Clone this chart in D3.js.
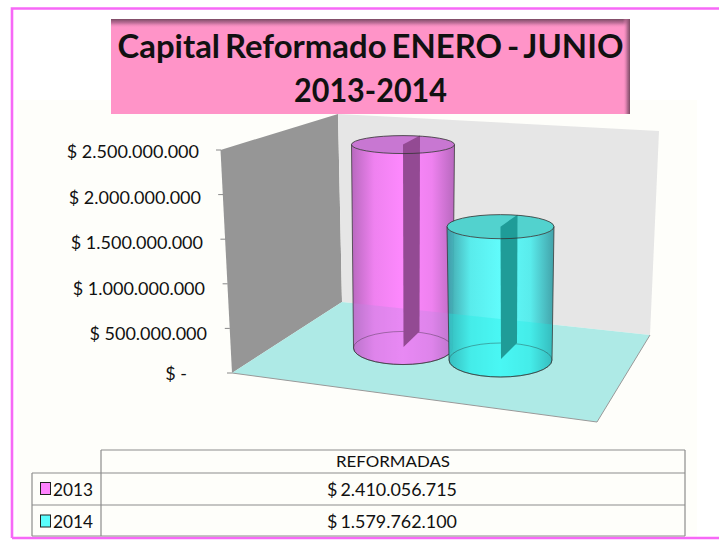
<!DOCTYPE html>
<html><head><meta charset="utf-8">
<script src="https://cdnjs.cloudflare.com/ajax/libs/d3/7.8.5/d3.min.js"></script>
<style>html,body{margin:0;padding:0;background:#fff}svg{display:block}text{font-family:Lato,"Open Sans",sans-serif;fill:#111}</style>
</head><body><svg id="c" width="719" height="540"></svg>
<script>
const titleLines = ["Capital Reformado ENERO - JUNIO", "2013-2014"];
const years = ["2013", "2014"];
const values = [2410056715, 1579762100];
const tickValues = [0, 500000000, 1000000000, 1500000000, 2000000000, 2500000000];
const tableHeader = "REFORMADAS";
const seriesColors = ["#ff84ff", "#5afdfd"];

const loc = d3.formatLocale({decimal:",",thousands:".",grouping:[3],currency:["$ ",""]});
const money = v => v === 0 ? "$ -" : loc.format("$,.0f")(v);

const svg = d3.select("#c"), defs = svg.append("defs");

// frame + panel
svg.append("rect").attr("x",0).attr("y",0).attr("width",719).attr("height",540).attr("fill","#fff");
svg.append("rect").attr("x",17).attr("y",100).attr("width",680).attr("height",437).attr("fill","#fefefa");
svg.append("path").attr("d","M12,538V8.5H719 M12,538H719").attr("fill","none").attr("stroke","#f768f7").attr("stroke-width",2.6);

// title box
function grad(id,x2,y2,stops){const g=defs.append("linearGradient").attr("id",id).attr("x1",0).attr("y1",0).attr("x2",x2).attr("y2",y2);
  stops.forEach(s=>g.append("stop").attr("offset",s[0]).attr("stop-color",s[1]).attr("stop-opacity",s[2]));}
grad("ts",0,1,[[0,"#7a4a63",1],[.45,"#b0668e",.8],[1,"#ff94c8",0]]);
grad("rs",1,0,[[0,"#ff94c8",0],[.6,"#a86488",.8],[1,"#7a4a63",1]]);
svg.append("rect").attr("x",111).attr("y",19).attr("width",519).attr("height",95).attr("fill","#ff94c8");
svg.append("rect").attr("x",111).attr("y",19).attr("width",519).attr("height",9).attr("fill","url(#ts)");
svg.append("rect").attr("x",623).attr("y",19).attr("width",7).attr("height",95).attr("fill","url(#rs)");
svg.selectAll("text.title").data(titleLines).join("text").attr("class","title")
  .attr("x",370.5).attr("y",(d,i)=>58+i*44).attr("text-anchor","middle")
  .attr("font-size",33).attr("font-weight",700).attr("fill","#000").attr("word-spacing",-3)
  .attr("textLength",(d,i)=>i?153:506).attr("lengthAdjust","spacingAndGlyphs").text(d=>d);

// 3D box
const wall = d3.line();
const floorPts = [[342,302],[650,335],[597,422],[232,373]];
svg.append("path").attr("d",wall([[220.5,150],[338,114],[342,302],[232,373]])+"Z").attr("fill","#969696");
svg.append("path").attr("d",wall([[338,114],[659,131],[650,335],[342,302]])+"Z").attr("fill","#e6e6e6");
svg.append("path").attr("d",wall(floorPts)+"Z").attr("fill","#aeeae6");
svg.append("path").attr("d",wall([[650,335],[597,422],[232,373]])).attr("fill","none").attr("stroke","#999").attr("stroke-width",1);
defs.append("clipPath").attr("id","floorClip").append("path").attr("d",wall([[342,302],[650,335],[650,430],[232,430],[232,373]])+"Z");

// y axis on the slanted wall
const yTick = d3.scaleLinear().domain([0,2500000000]).range([373,150]);
const xEdge = d3.scaleLinear().domain([0,2500000000]).range([232,221]);
const labelY = d3.scaleLinear().domain([0,500000000,2500000000]).range([374,334,152]);
const labelX = d3.scaleLinear().domain([0,500000000,2500000000]).range([187,207,199]);
const axis = svg.append("g").call(d3.axisLeft(yTick).tickValues(tickValues).tickSize(5).tickFormat(money));
axis.select(".domain").remove();
axis.selectAll(".tick").attr("transform",d=>`translate(${xEdge(d)},${yTick(d)})`);
axis.selectAll(".tick line").attr("stroke","#888");
axis.selectAll(".tick text").attr("fill","#111").attr("font-family","Lato").attr("font-size",18)
  .attr("text-anchor","end").attr("dy",null)
  .attr("x",d=>labelX(d)-xEdge(d)).attr("y",d=>labelY(d)-yTick(d)+6);

// cylinders
const height = d3.scaleLinear().domain([0,2500000000]).range([0,211]);
const cx = d3.scalePoint().domain(years).range([403,500.5]);
const baseY = d3.scalePoint().domain(years).range([348,360]);
const baseRx = d3.scalePoint().domain(years).range([49.5,51.5]);
const ryAt = d3.scaleLinear().domain([145,360]).range([9,17]);
const edges = ["#b562bc","#3a9ea6"], mids = ["#ef7cf0","#52ecec"], tops = ["#c877d2","#52d2ce"], bands = ["#934a93","#1f9c98"];
const floorTint = ["#c088e0","#20ece4"];

years.forEach((yr,i)=>{
  grad("b"+i,1,0,[[0,edges[i],.95],[.22,mids[i],.95],[.5,seriesColors[i],.95],[.78,mids[i],.95],[1,edges[i],.95]]);
  const x = cx(yr), yb = baseY(yr), yt = yb - height(values[i]);
  const rb = baseRx(yr), rt = rb + 2, rbY = ryAt(yb), rtY = ryAt(yt);
  const bodyD = `M${x-rt},${yt}L${x-rb},${yb}A${rb},${rbY} 0 0 0 ${x+rb},${yb}L${x+rt},${yt}A${rt},${rtY} 0 0 1 ${x-rt},${yt}Z`;
  const g = svg.append("g");
  g.append("path").attr("d",bodyD).attr("fill","url(#b"+i+")");
  g.append("path").attr("d",bodyD).attr("fill",floorTint[i]).attr("fill-opacity",.32).attr("clip-path","url(#floorClip)");
  g.append("ellipse").attr("cx",x).attr("cy",yb).attr("rx",rb).attr("ry",rbY).attr("fill","none")
    .attr("stroke","#222").attr("stroke-opacity",.35);
  g.append("ellipse").attr("cx",x).attr("cy",yt).attr("rx",rt).attr("ry",rtY).attr("fill",tops[i]);
  g.append("path").attr("d",wall([[x,yt],[x+17,yt-rtY],[x+16.5,yb-rbY],[x+.5,yb-1]])+"Z").attr("fill",bands[i]);
  g.append("ellipse").attr("cx",x).attr("cy",yt).attr("rx",rt).attr("ry",rtY).attr("fill","none").attr("stroke","#333").attr("stroke-opacity",.8);
  g.append("path").attr("d",`M${x-rt},${yt}L${x-rb},${yb}A${rb},${rbY} 0 0 0 ${x+rb},${yb}L${x+rt},${yt}`)
    .attr("fill","none").attr("stroke","#333").attr("stroke-opacity",.75);
});

// data table
const tbl = svg.append("g");
const rowY = d3.scalePoint().domain(years).range([472.5,505]);
const line = (a,b,c,d)=>tbl.append("line").attr("x1",a).attr("y1",b).attr("x2",c).attr("y2",d).attr("stroke","#8c8c8c").attr("stroke-width",1.2);
line(101,450,685,450); line(101,450,101,536); line(685,450,685,536);
line(32,473,685,473); line(32,505,685,505); line(32,536,685,536); line(32,473,32,536);
tbl.append("text").attr("x",393).attr("y",467).attr("text-anchor","middle").attr("font-size",16)
  .attr("textLength",114).attr("lengthAdjust","spacingAndGlyphs").text(tableHeader);
years.forEach((yr,i)=>{
  const y = rowY(yr);
  tbl.append("rect").attr("x",40.5).attr("y",y+10).attr("width",10).attr("height",12).attr("fill",seriesColors[i]).attr("stroke","#222");
  tbl.append("text").attr("x",53).attr("y",y+23).attr("font-size",18).attr("textLength",40).attr("lengthAdjust","spacingAndGlyphs").text(yr);
  tbl.append("text").attr("x",392).attr("y",y+23).attr("text-anchor","middle").attr("font-size",18).attr("word-spacing",-1.5).attr("textLength",130).attr("lengthAdjust","spacingAndGlyphs").text(money(values[i]));
});
</script></body></html>
